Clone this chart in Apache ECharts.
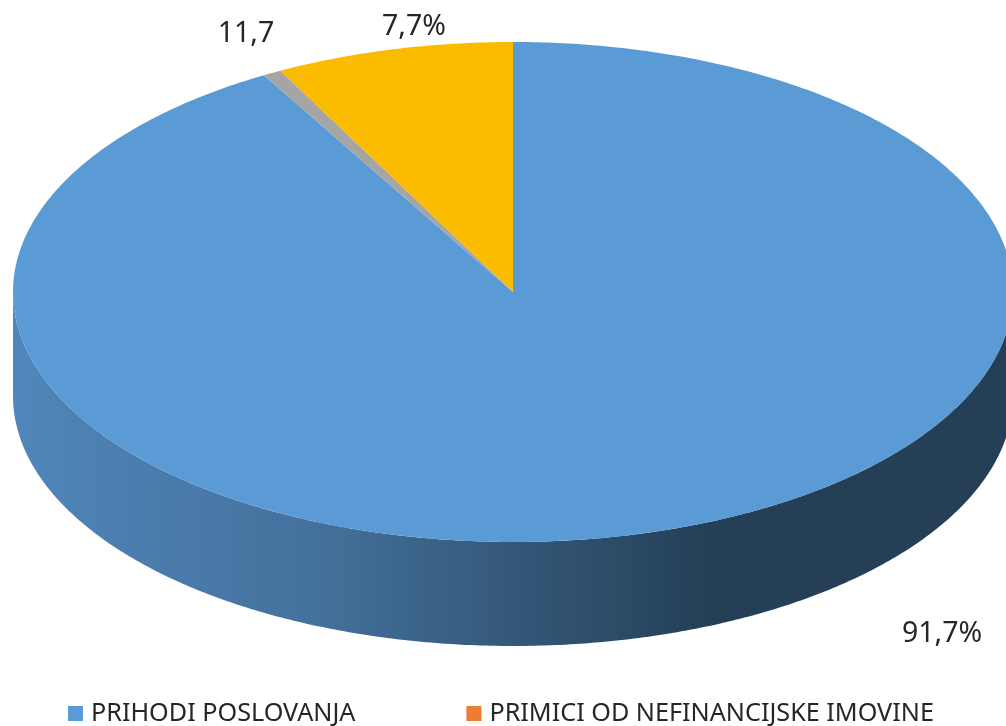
<!DOCTYPE html>
<html><head><meta charset="utf-8">
<style>html,body{margin:0;padding:0;background:#fff}#c{width:1006px;height:726px}</style>
<script src="https://cdn.jsdelivr.net/npm/echarts@6/dist/echarts.min.js"></script>
</head><body><div id="c"></div>
<script>
const categories = ['PRIHODI POSLOVANJA', 'PRIMICI OD NEFINANCIJSKE IMOVINE', 'OSTALO', 'DONACIJE'];
const values = [91.7, 0, 0.6, 7.7];
const labels = ['91,7%', '', '11,7', '7,7%'];
const colors = ['#5B9BD5', '#ED7D31', '#A5A5A5', '#FBBC00'];
const labelAt = [[942, 634], null, [246, 34], [414, 27]];

const CX = 513, CY = 292, RX = 500, RY = 250, DEPTH = 104;
const total = values.reduce((a, b) => a + b, 0);
const TAU = Math.PI * 2;
const pt = (a, dy) => [CX + RX * Math.sin(a), CY - RY * Math.cos(a) + (dy || 0)];

function arc(a0, a1, dy, rev) {
  const n = Math.max(2, Math.ceil((a1 - a0) / 0.01)), out = [];
  for (let i = 0; i <= n; i++) out.push(pt(a0 + (a1 - a0) * i / n, dy));
  return rev ? out.reverse() : out;
}

function renderSlice(idx) {
  return function (params, api) {
    const v = api.value(0);
    const before = values.slice(0, idx).reduce((a, b) => a + b, 0);
    const a0 = before / total * TAU, a1 = (before + v) / total * TAU;
    const children = [];
    if (v > 0) {
      const f0 = Math.max(a0, Math.PI / 2), f1 = Math.min(a1, Math.PI * 1.5);
      if (f1 > f0) {
        children.push({
          type: 'polygon',
          shape: { points: arc(f0, f1, 0).concat(arc(f0, f1, DEPTH, true)) },
          style: { fill: new echarts.graphic.LinearGradient(0, 0, 1, 0, [
            { offset: 0, color: '#5086BA' },
            { offset: 0.30, color: '#44719C' },
            { offset: 0.70, color: '#243F56' },
            { offset: 1, color: '#243F56' }
          ]) }
        });
      }
      children.push({
        type: 'polygon',
        shape: { points: [[CX, CY]].concat(arc(a0, a1, 0)) },
        style: { fill: api.visual('color') }
      });
    }
    return { type: 'group', children };
  };
}

const series = categories.map((name, i) => ({
  type: 'custom', name, coordinateSystem: 'none', silent: true,
  itemStyle: { color: colors[i] },
  renderItem: renderSlice(i),
  data: [[values[i]]]
}));

const chart = echarts.init(document.getElementById('c'), null, { renderer: 'canvas' });
chart.setOption({
  animation: false,
  backgroundColor: '#fff',
  legend: {
    data: categories.slice(0, 2).map(name => ({ name, icon: 'rect' })),
    left: 68, top: 701, itemWidth: 15, itemHeight: 15, itemGap: 111, padding: 0,
    textStyle: { fontFamily: 'Noto Sans', fontSize: 25.2, color: '#262626', padding: [0, 0, 0, 3] }
  },
  graphic: labels.map((text, i) => text ? {
    type: 'text', x: labelAt[i][0], y: labelAt[i][1], silent: true,
    style: { text, fontFamily: 'Noto Sans', fontSize: 28.5, fill: '#262626', textAlign: 'center', textVerticalAlign: 'middle' }
  } : null).filter(Boolean),
  series
});
</script></body></html>
